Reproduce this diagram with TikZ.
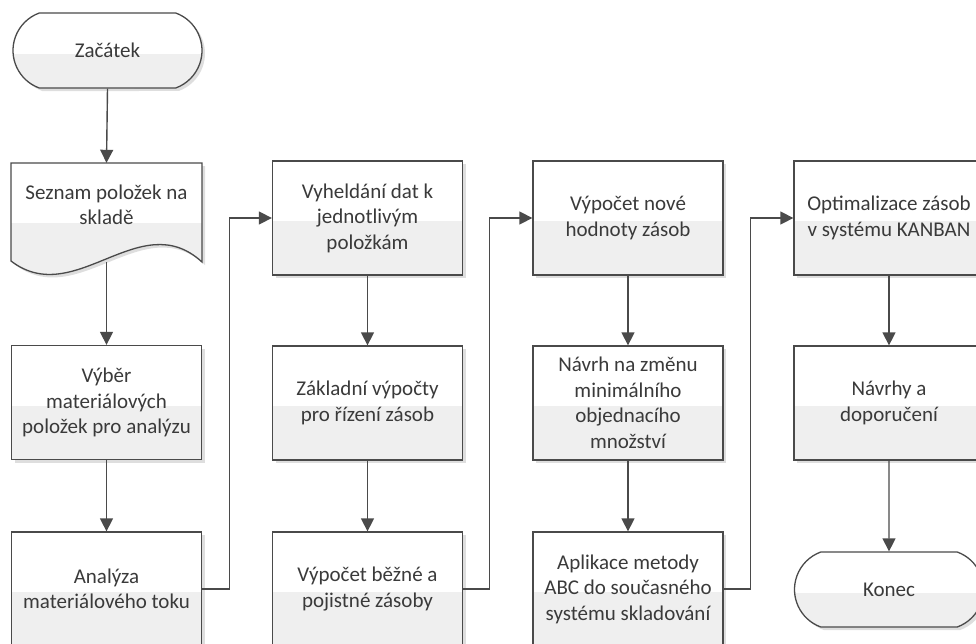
\documentclass[tikz,border=0pt]{standalone}
\usepackage{fontspec}
\setmainfont{Carlito}
\usetikzlibrary{arrows.meta,shapes.misc,shadows}

\definecolor{linec}{HTML}{4A4A4A}
\definecolor{textc}{HTML}{3A3A3A}
\definecolor{lowc}{HTML}{EFEFEF}
\definecolor{shadc}{HTML}{DEDEDE}

\tikzset{
  boxfont/.style={text=textc, align=center, font=\fontsize{21}{25.5}\selectfont},
  softshadow/.style={drop shadow={shadow xshift=3pt, shadow yshift=-3pt, fill=shadc, opacity=1}},
  base/.style={boxfont, draw=linec, line width=1.3pt, inner sep=0pt, fill=white, softshadow,
    path picture={\fill[lowc] ([yshift=-3pt]path picture bounding box.west) rectangle (path picture bounding box.south east);}},
  procbox/.style={base, rectangle, minimum width=190pt, minimum height=114pt},
  termbox/.style={base, rounded rectangle, rounded rectangle arc length=140, minimum width=189pt, minimum height=75pt},
  flow/.style={draw=linec, line width=1.4pt, -{Triangle[length=13pt,width=13pt]}},
}

\begin{document}
\begin{tikzpicture}[x=1pt, y=-1pt]
  \useasboundingbox (0,0) rectangle (976,643);
  \clip (0,0) rectangle (976,643);

  % start terminator
  \node[termbox] (start) at (107.5,50.5) {Začátek};

  % document shape with wavy bottom edge
  \path[draw=linec, line width=1.3pt, fill=white, softshadow,
        path picture={\fill[lowc] (0,223) rectangle (260,330);}]
    (11,163) -- (202,163) -- (202,262) .. controls (140,205) and (75,310) .. (11,261) -- cycle;
  \node[boxfont, inner sep=0pt, minimum width=191pt, minimum height=84pt] (doc) at (106.5,205) {Seznam položek na\\skladě};
  \coordinate (docb) at (106.5,262);

  % column 1
  \node[procbox] (sel) at (106.5,402.5) {Výběr\\materiálových\\položek pro analýzu};
  \node[procbox] (flowan) at (106.5,589) {Analýza\\materiálového toku};

  % column 2
  \node[procbox] (data) at (367.5,218) {Vyheldání dat k\\jednotlivým\\položkám};
  \node[procbox] (basic) at (367.5,403) {Základní výpočty\\pro řízení zásob};
  \node[procbox] (stock) at (367.5,589) {Výpočet běžné a\\pojistné zásoby};

  % column 3
  \node[procbox] (newval) at (628,218) {Výpočet nové\\hodnoty zásob};
  \node[procbox] (minord) at (628,403) {Návrh na změnu\\minimálního\\objednacího\\množství};
  \node[procbox] (abc) at (628,589) {Aplikace metody\\ABC do současného\\systému skladování};

  % column 4
  \node[procbox] (kanban) at (889,218) {Optimalizace zásob\\v systému KANBAN};
  \node[procbox] (recom) at (889,403) {Návrhy a\\doporučení};
  \node[termbox] (stop) at (889,589.5) {Konec};

  % connectors
  \draw[flow] (start.south) -- (doc.north);
  \draw[flow] (docb) -- (sel.north);
  \draw[flow] (sel) -- (flowan);
  \draw[flow] (flowan.east) -- ++(27.5,0) |- (data.west);
  \draw[flow] (data) -- (basic);
  \draw[flow] (basic) -- (stock);
  \draw[flow] (stock.east) -- ++(26.5,0) |- (newval.west);
  \draw[flow] (newval) -- (minord);
  \draw[flow] (minord) -- (abc);
  \draw[flow] (abc.east) -- ++(27,0) |- (kanban.west);
  \draw[flow] (kanban) -- (recom);
  \draw[flow] (recom) -- (stop);
\end{tikzpicture}
\end{document}
